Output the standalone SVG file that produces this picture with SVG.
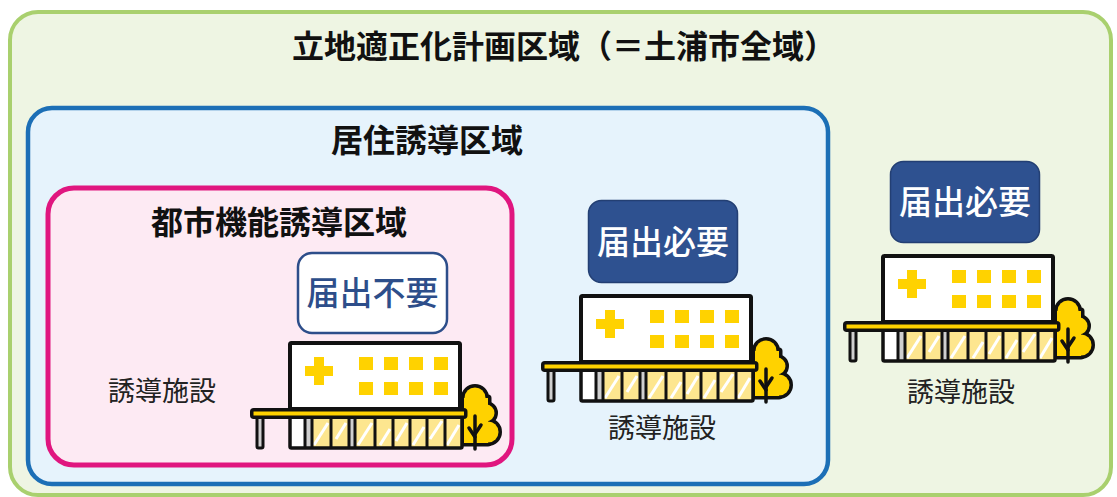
<svg xmlns="http://www.w3.org/2000/svg" xmlns:xlink="http://www.w3.org/1999/xlink" width="1117" height="497" viewBox="0 0 1117 497">
  <style>
    .title { font-family: "Noto Sans CJK JP", "Noto Sans", sans-serif; font-weight: 700; font-size: 32px; fill: #111; text-anchor: middle; }
    .label { font-family: "Noto Sans CJK JP", "Noto Sans", sans-serif; font-weight: 400; font-size: 27px; fill: #222; text-anchor: middle; }
    .badge-text { font-family: "Noto Sans CJK JP", "Noto Sans", sans-serif; font-weight: 500; font-size: 33px; text-anchor: middle; }
    .ink { stroke: #111; }
    .yellow { fill: #ffd200; }
    .glass { fill: #fde68f; }
  </style>
  <defs>
    <!-- facility icon: building with canopy, glass ground floor and a tree -->
    <g id="facility">
      <!-- tree (outline pass, then fill pass) -->
      <g fill="#111" stroke="#111" stroke-width="7" stroke-linejoin="round">
        <circle cx="225" cy="57" r="10.5"/>
        <circle cx="236" cy="72" r="8.5"/>
        <circle cx="238" cy="91" r="10.5"/>
        <rect x="214" y="57" width="24" height="45"/>
      </g>
      <g class="yellow">
        <circle cx="225" cy="57" r="10.5"/>
        <circle cx="236" cy="72" r="8.5"/>
        <circle cx="238" cy="91" r="10.5"/>
        <rect x="214" y="57" width="24" height="45"/>
      </g>
      <g fill="none" stroke="#111" stroke-width="3.5" stroke-linecap="round">
        <line x1="225" y1="75" x2="225" y2="108"/>
        <line x1="225" y1="96" x2="219" y2="87"/>
        <line x1="225" y1="93" x2="231" y2="84"/>
      </g>
      <!-- upper block -->
      <rect x="40" y="2" width="170" height="66" fill="#fff" class="ink" stroke-width="4" rx="1.5"/>
      <g class="yellow">
        <rect x="55" y="25" width="28" height="10"/>
        <rect x="64" y="16" width="10" height="28"/>
        <rect x="109" y="16" width="14" height="13"/>
        <rect x="134" y="16" width="14" height="13"/>
        <rect x="159" y="16" width="14" height="13"/>
        <rect x="184" y="16" width="14" height="13"/>
        <rect x="109" y="41" width="14" height="13"/>
        <rect x="134" y="41" width="14" height="13"/>
        <rect x="159" y="41" width="14" height="13"/>
        <rect x="184" y="41" width="14" height="13"/>
      </g>
      <!-- glass ground floor -->
      <rect x="40" y="76" width="172" height="31" class="glass"/>
      <rect x="40" y="76" width="15" height="31" fill="#fff"/>
      <rect x="55" y="76" width="7" height="31" fill="#cfcfcf"/>
      <rect x="99" y="76" width="6" height="31" fill="#cfcfcf"/>
      <g stroke="#fff" stroke-width="3">
        <line x1="64" y1="104" x2="78" y2="82"/>
        <line x1="86" y1="98" x2="96" y2="82"/>
        <line x1="108" y1="104" x2="122" y2="82"/>
        <line x1="130" y1="104" x2="140" y2="88"/>
        <line x1="146" y1="100" x2="157" y2="82"/>
        <line x1="163" y1="104" x2="174" y2="86"/>
        <line x1="180" y1="98" x2="192" y2="80"/>
        <line x1="197" y1="104" x2="209" y2="84"/>
      </g>
      <g stroke="#111" stroke-width="3">
        <line x1="55" y1="76" x2="55" y2="107"/>
        <line x1="62" y1="76" x2="62" y2="107"/>
        <line x1="81" y1="76" x2="81" y2="107"/>
        <line x1="99" y1="76" x2="99" y2="107"/>
        <line x1="105" y1="76" x2="105" y2="107"/>
        <line x1="125" y1="76" x2="125" y2="107"/>
        <line x1="143" y1="76" x2="143" y2="107"/>
        <line x1="160" y1="76" x2="160" y2="107"/>
        <line x1="177" y1="76" x2="177" y2="107"/>
        <line x1="195" y1="76" x2="195" y2="107"/>
      </g>
      <rect x="40" y="74" width="172" height="33" fill="none" class="ink" stroke-width="3.5" rx="1.5"/>
      <!-- canopy post -->
      <rect x="7" y="74" width="6" height="33" fill="#cfcfcf" class="ink" stroke-width="3" rx="1.5"/>
      <!-- canopy -->
      <rect x="1.75" y="68.75" width="214" height="7.5" rx="2" class="yellow ink" stroke-width="3.5"/>
    </g>
  </defs>

  <!-- planning area (whole city) -->
  <g id="area-plan">
    <rect x="10" y="12" width="1101" height="483" rx="28" fill="#eef5e3" stroke="#a9d06e" stroke-width="4"/>
    <text class="title" x="564" y="58">立地適正化計画区域（＝土浦市全域）</text>
  </g>

  <!-- residential inducement area -->
  <g id="area-residential">
    <rect x="28" y="108" width="800" height="376" rx="24" fill="#e6f3fc" stroke="#1c6fb6" stroke-width="4.5"/>
    <text class="title" x="427" y="152">居住誘導区域</text>
  </g>

  <!-- urban function inducement area -->
  <g id="area-urban">
    <rect x="48" y="188" width="464" height="277" rx="26" fill="#fdeaf3" stroke="#e0167f" stroke-width="5"/>
    <text class="title" x="279" y="234">都市機能誘導区域</text>
  </g>

  <!-- facility inside urban function area -->
  <g id="facility-urban">
    <rect x="298" y="253" width="149" height="80" rx="14" fill="#fff" stroke="#2d4e8a" stroke-width="2.5"/>
    <text class="badge-text" x="372.5" y="305" fill="#2d4e8a">届出不要</text>
    <use xlink:href="#facility" href="#facility" x="250" y="341"/>
    <text class="label" x="162" y="401">誘導施設</text>
  </g>

  <!-- facility inside residential area -->
  <g id="facility-residential">
    <rect x="588.5" y="200.5" width="149" height="82" rx="13" fill="#2e5190" stroke="#233f73" stroke-width="1.5"/>
    <text class="badge-text" x="663" y="254" fill="#fff">届出必要</text>
    <use xlink:href="#facility" href="#facility" x="541" y="294"/>
    <text class="label" x="662" y="438">誘導施設</text>
  </g>

  <!-- facility outside both areas -->
  <g id="facility-outside">
    <rect x="890.5" y="161.5" width="149" height="81" rx="13" fill="#2e5190" stroke="#233f73" stroke-width="1.5"/>
    <text class="badge-text" x="965" y="214" fill="#fff">届出必要</text>
    <use xlink:href="#facility" href="#facility" x="843" y="254"/>
    <text class="label" x="961" y="402">誘導施設</text>
  </g>
</svg>
